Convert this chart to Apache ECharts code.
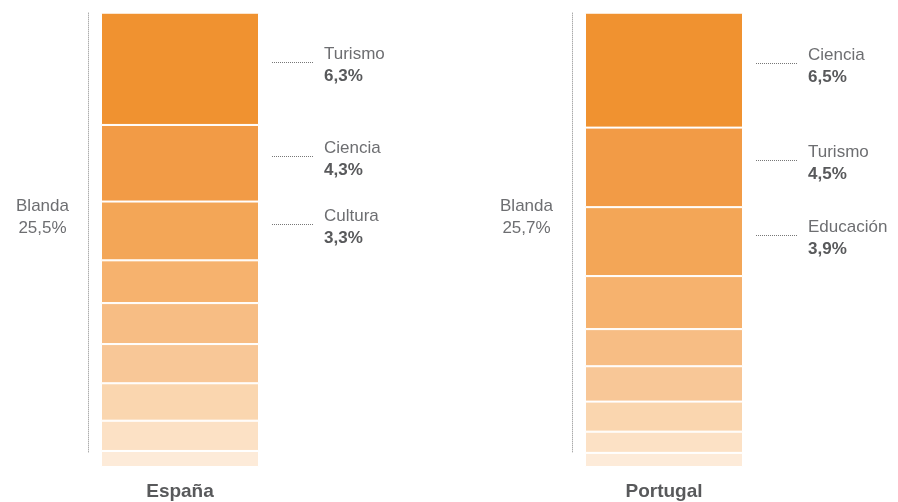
<!DOCTYPE html>
<html>
<head>
<meta charset="utf-8">
<script src="https://cdn.jsdelivr.net/npm/echarts@6/dist/echarts.min.js"></script>
<style>
    html, body { margin: 0; padding: 0; background: #fff; }
    #chart { width: 898px; height: 502px; }
</style>
</head>
<body>
<div id="chart"></div>
<script>
// datos (de arriba a abajo en cada barra)
var countries = ['España', 'Portugal'];
var totals = [25.5, 25.7];
var espNames = ['Turismo', 'Ciencia', 'Cultura'];
var espValues = [6.3, 4.3, 3.3, 2.4, 2.3, 2.2, 2.1, 1.7, 0.9];
var porNames = ['Ciencia', 'Turismo', 'Educación'];
var porValues = [6.5, 4.5, 3.9, 3.0, 2.1, 2.0, 1.7, 1.2, 0.8];
var shades = ['#F09230', '#F29B46', '#F3A657', '#F6B26E', '#F7BD84', '#F8C797', '#FAD6AF', '#FCE1C5', '#FDEBD9'];

var FONT = '"Liberation Sans", Arial, sans-serif';
var groups = [
    {values: espValues, names: espNames},
    {values: porValues, names: porNames}
];

function fmt(v) {
    return v.toFixed(1).replace('.', ',') + '%';
}

var series = [];
groups.forEach(function (g, gi) {
    var sum = 0;
    g.values.forEach(function (v) { sum += v; });
    g.sum = sum;
    // apilar desde abajo
    for (var i = g.values.length - 1; i >= 0; i--) {
        series.push({
            type: 'bar',
            xAxisIndex: gi,
            yAxisIndex: gi,
            stack: 'c' + gi,
            barWidth: '100%',
            silent: true,
            itemStyle: {color: shades[i], borderColor: '#fff', borderWidth: 1},
            data: [g.values[i]]
        });
    }
    // posiciones de las etiquetas (centro de cada tramo)
    var labelData = [];
    var acc = 0;
    for (var k = 0; k < g.names.length; k++) {
        labelData.push([0, sum - acc - g.values[k] / 2]);
        acc += g.values[k];
    }
    series.push({
        type: 'custom',
        xAxisIndex: gi,
        yAxisIndex: gi,
        silent: true,
        z: 5,
        encode: {x: 0, y: 1},
        data: labelData,
        renderItem: function (params, api) {
            var cs = params.coordSys;
            var p = api.coord([api.value(0), api.value(1)]);
            var right = cs.x + cs.width;
            var y = Math.round(p[1] - 7) + 0.5;
            var idx = params.dataIndex;
            return {
                type: 'group',
                children: [
                    {type: 'line', shape: {x1: right + 13, y1: y, x2: right + 54, y2: y},
                        style: {stroke: '#777', lineWidth: 1, lineDash: [1, 1]}},
                    {type: 'text', x: right + 65, y: y - 8,
                        style: {text: g.names[idx], fill: '#6d6e71', font: '17px ' + FONT,
                            textAlign: 'left', textVerticalAlign: 'middle', verticalAlign: 'middle'}},
                    {type: 'text', x: right + 65, y: y + 14,
                        style: {text: fmt(g.values[idx]), fill: '#58595b', font: 'bold 17px ' + FONT,
                            textAlign: 'left', textVerticalAlign: 'middle', verticalAlign: 'middle'}}
                ]
            };
        }
    });
    // total a la izquierda con linea punteada
    series.push({
        type: 'custom',
        xAxisIndex: gi,
        yAxisIndex: gi,
        silent: true,
        z: 5,
        encode: {x: 0, y: 1},
        data: [[0, sum]],
        renderItem: function (params, api) {
            var cs = params.coordSys;
            var lx = Math.round(cs.x - 13) + 0.5;
            var cx = lx - 46;
            return {
                type: 'group',
                children: [
                    {type: 'line', shape: {x1: lx, y1: cs.y, x2: lx, y2: cs.y + cs.height - 14},
                        style: {stroke: '#888', lineWidth: 1, lineDash: [1, 1]}},
                    {type: 'text', x: cx, y: 206,
                        style: {text: 'Blanda', fill: '#6d6e71', font: '17px ' + FONT,
                            textAlign: 'center', textVerticalAlign: 'middle', verticalAlign: 'middle'}},
                    {type: 'text', x: cx, y: 228,
                        style: {text: fmt(totals[gi]), fill: '#6d6e71', font: '17px ' + FONT,
                            textAlign: 'center', textVerticalAlign: 'middle', verticalAlign: 'middle'}}
                ]
            };
        }
    });
});

var option = {
    animation: false,
    backgroundColor: '#fff',
    grid: [
        {left: 101, width: 158, top: 12.7, bottom: 35},
        {left: 585, width: 158, top: 12.7, bottom: 35}
    ],
    xAxis: countries.map(function (c, i) {
        return {
            type: 'category',
            gridIndex: i,
            data: [c],
            axisLine: {show: false},
            axisTick: {show: false},
            axisLabel: {margin: 15, fontSize: 19, fontWeight: 'bold', color: '#58595b', fontFamily: FONT}
        };
    }),
    yAxis: groups.map(function (g, i) {
        return {type: 'value', gridIndex: i, min: 0, max: g.sum, show: false};
    }),
    series: series
};

var myChart = echarts.init(document.getElementById('chart'));
myChart.setOption(option);
</script>
</body>
</html>
